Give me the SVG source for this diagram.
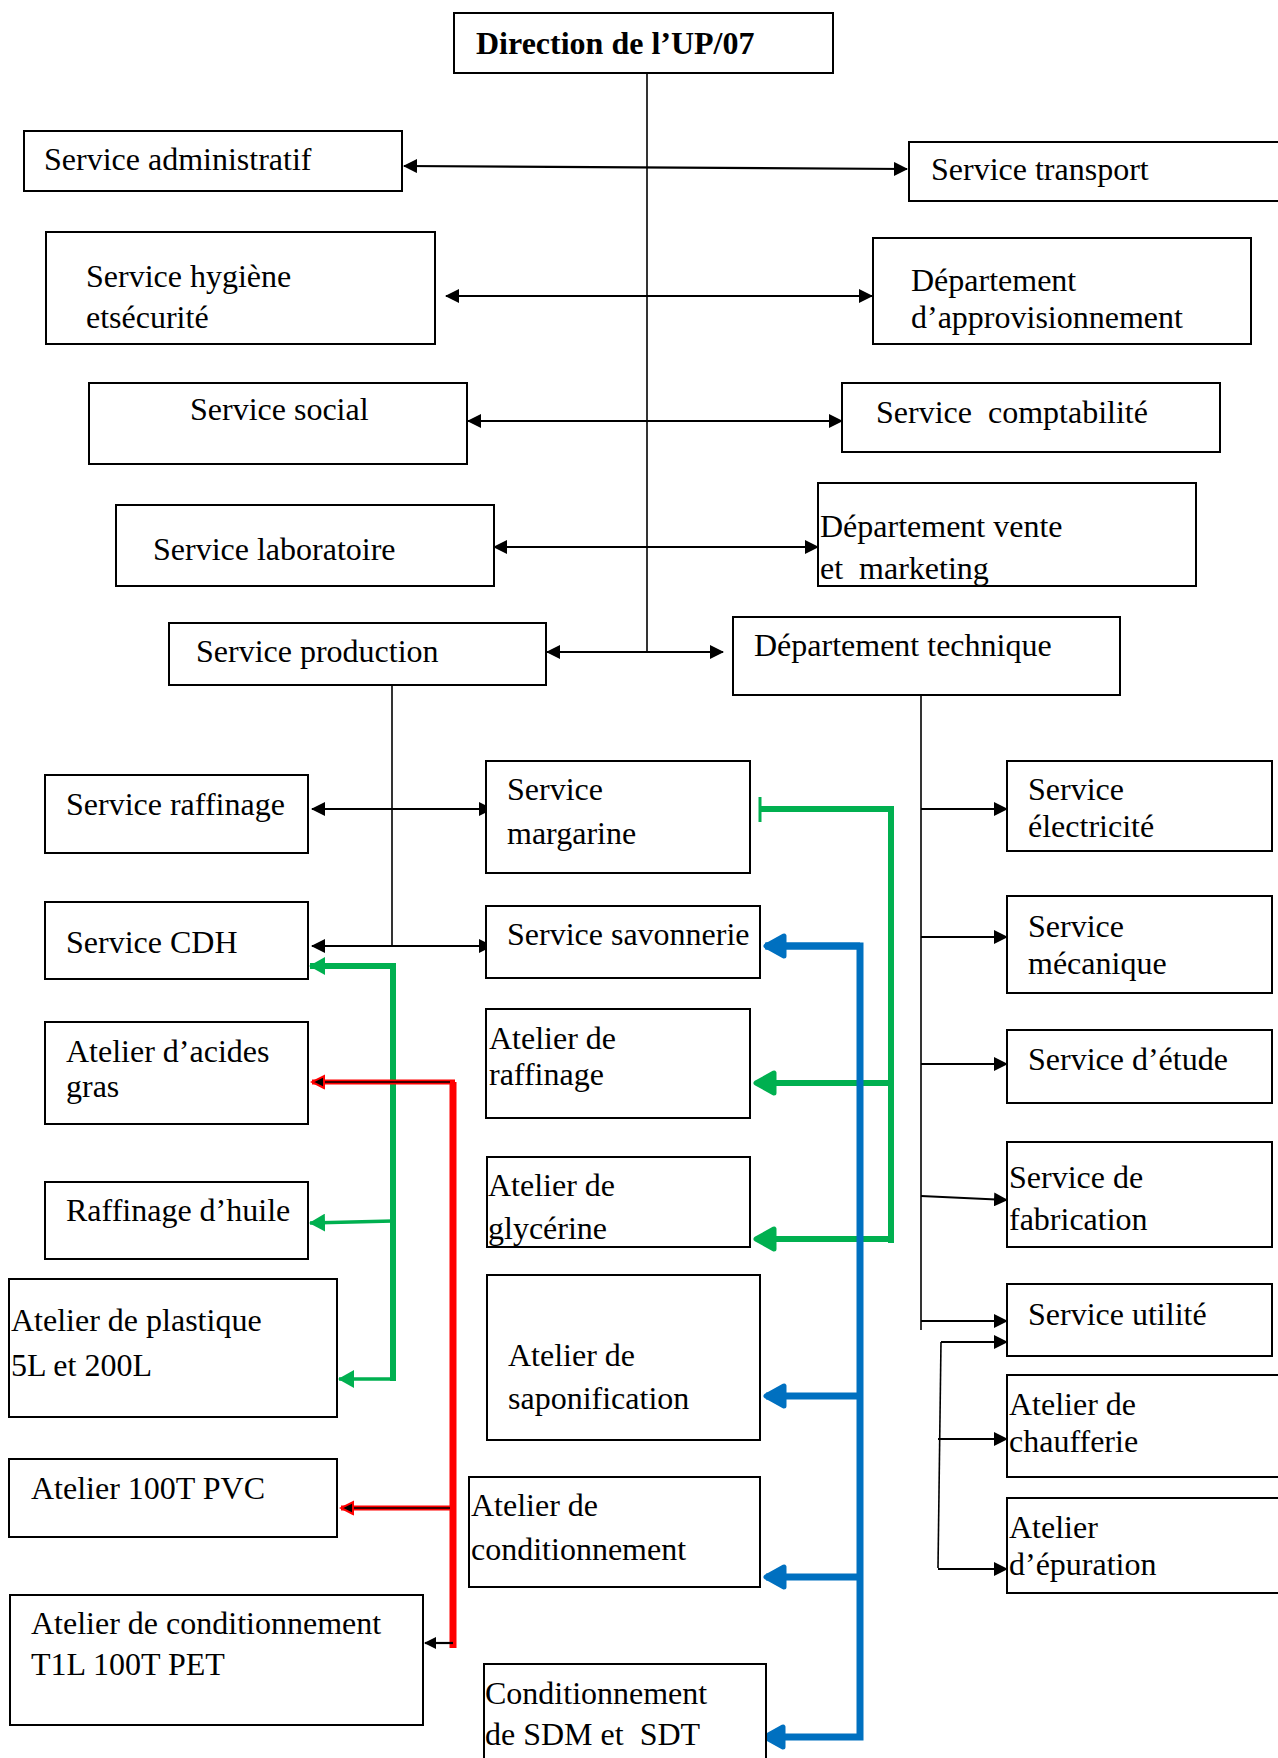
<svg xmlns="http://www.w3.org/2000/svg" width="1278" height="1758" viewBox="0 0 1278 1758">
<style>
.box{fill:#fff;stroke:#000;stroke-width:2}
text{font-family:"Liberation Serif","Times New Roman",serif;font-size:32px;fill:#000;white-space:pre}
.b{font-weight:bold}
.k{fill:none;stroke:#000;stroke-width:1.6}
.ka{fill:none;stroke:#000;stroke-width:2.2}
.g{fill:none;stroke:#00B050;stroke-width:6}
.gt{fill:none;stroke:#00B050;stroke-width:3.5}
.bl{fill:none;stroke:#0070C0;stroke-width:7}
.r{fill:none;stroke:#FF0000;stroke-width:7}
.rt{fill:none;stroke:#FF0000;stroke-width:5}
.rk{fill:none;stroke:#000;stroke-width:1.5}
</style>
<defs>
<marker id="ah" viewBox="0 0 14 14" markerWidth="14" markerHeight="14" refX="13" refY="7" orient="auto-start-reverse" markerUnits="userSpaceOnUse"><path d="M0,0 L14,7 L0,14 z" fill="#000"/></marker>
<marker id="ahs" viewBox="0 0 12 12" markerWidth="12" markerHeight="12" refX="11" refY="6" orient="auto" markerUnits="userSpaceOnUse"><path d="M0,0 L12,6 L0,12 z" fill="#000"/></marker>
<marker id="ag" viewBox="0 0 16 18" markerWidth="16" markerHeight="18" refX="15" refY="9" orient="auto" markerUnits="userSpaceOnUse"><path d="M0,0 L16,9 L0,18 z" fill="#00B050"/></marker>
<marker id="agb" viewBox="0 0 24 26" markerWidth="24" markerHeight="26" refX="21" refY="13" orient="auto" markerUnits="userSpaceOnUse"><path d="M3,3 L21,13 L3,23 z" fill="#00B050" stroke="#00B050" stroke-width="5" stroke-linejoin="round"/></marker>
<marker id="abl" viewBox="0 0 24 26" markerWidth="24" markerHeight="26" refX="21" refY="13" orient="auto" markerUnits="userSpaceOnUse"><path d="M3,3 L21,13 L3,23 z" fill="#0070C0" stroke="#0070C0" stroke-width="5" stroke-linejoin="round"/></marker>
<marker id="ar" viewBox="0 0 16 16" markerWidth="16" markerHeight="16" refX="14" refY="8" orient="auto" markerUnits="userSpaceOnUse"><path d="M2,2 L14,8 L2,14 z" fill="#000" stroke="#FF0000" stroke-width="2"/></marker>
</defs>
<g id="connectors">
<line class="k" x1="647" y1="73" x2="647" y2="652"/>
<line class="ka" x1="404" y1="166" x2="907" y2="169" marker-start="url(#ah)" marker-end="url(#ah)"/>
<line class="ka" x1="446" y1="296" x2="872" y2="296" marker-start="url(#ah)" marker-end="url(#ah)"/>
<line class="ka" x1="468" y1="421" x2="842" y2="421" marker-start="url(#ah)" marker-end="url(#ah)"/>
<line class="ka" x1="494" y1="547" x2="818" y2="547" marker-start="url(#ah)" marker-end="url(#ah)"/>
<line class="ka" x1="547" y1="652" x2="723" y2="652" marker-start="url(#ah)" marker-end="url(#ah)"/>
<line class="k" x1="392" y1="685" x2="392" y2="946"/>
<line class="ka" x1="312" y1="809" x2="492" y2="809" marker-start="url(#ah)" marker-end="url(#ah)"/>
<line class="ka" x1="312" y1="946" x2="492" y2="946" marker-start="url(#ah)" marker-end="url(#ah)"/>
<line class="k" x1="921" y1="695" x2="921" y2="1330"/>
<line class="ka" x1="921" y1="809" x2="1007" y2="809" marker-end="url(#ah)"/>
<line class="ka" x1="921" y1="937" x2="1007" y2="937" marker-end="url(#ah)"/>
<line class="ka" x1="921" y1="1064" x2="1007" y2="1064" marker-end="url(#ah)"/>
<line class="ka" x1="921" y1="1196" x2="1007" y2="1200" marker-end="url(#ah)"/>
<line class="ka" x1="921" y1="1321" x2="1007" y2="1321" marker-end="url(#ah)"/>
<line class="k" x1="941" y1="1342" x2="938" y2="1568"/>
<line class="ka" x1="941" y1="1342" x2="1007" y2="1342" marker-end="url(#ah)"/>
<line class="ka" x1="938" y1="1439" x2="1007" y2="1439" marker-end="url(#ah)"/>
<line class="ka" x1="938" y1="1569" x2="1007" y2="1569" marker-end="url(#ah)"/>
<path class="g" d="M393,1381 L393,966 L310,966" marker-end="url(#ag)"/>
<line class="gt" x1="393" y1="1221" x2="310" y2="1223" marker-end="url(#ag)"/>
<line class="gt" x1="393" y1="1379" x2="339" y2="1379" marker-end="url(#ag)"/>
<path class="r" d="M453,1648 L453,1082"/>
<path class="rt" d="M455,1082 L312,1082"/>
<line class="rk" x1="450" y1="1082" x2="312" y2="1082" marker-end="url(#ar)"/>
<path class="rt" d="M453,1508 L341,1508"/>
<line class="rk" x1="450" y1="1508" x2="341" y2="1508" marker-end="url(#ar)"/>
<line class="ka" x1="453" y1="1643" x2="425" y2="1643" marker-end="url(#ahs)"/>
<path class="g" d="M760,809 L891,809 L891,1243"/>
<line stroke="#00B050" stroke-width="3" x1="760" y1="797" x2="760" y2="822"/>
<line class="g" x1="891" y1="1083" x2="756" y2="1083" marker-end="url(#agb)"/>
<line class="g" x1="894" y1="1239" x2="756" y2="1239" marker-end="url(#agb)"/>
<path class="bl" d="M765,946 L860,946 L860,1737 L765,1737" marker-end="url(#abl)"/>
<line class="bl" x1="860" y1="946" x2="766" y2="946" marker-end="url(#abl)"/>
<line class="bl" x1="860" y1="1396" x2="766" y2="1396" marker-end="url(#abl)"/>
<line class="bl" x1="860" y1="1577" x2="766" y2="1577" marker-end="url(#abl)"/>
</g>
<g id="n1"><rect class="box" x="454" y="13" width="379" height="60"/><text class="b" x="476" y="54">Direction de l’UP/07</text></g>
<g id="n2"><rect class="box" x="24" y="131" width="378" height="60"/><text x="44" y="170">Service administratif</text></g>
<g id="n3"><rect class="box" x="909" y="142" width="380" height="59"/><text x="931" y="180">Service transport</text></g>
<g id="n4"><rect class="box" x="46" y="232" width="389" height="112"/><text x="86" y="287">Service hygiène</text><text x="86" y="328">etsécurité</text></g>
<g id="n5"><rect class="box" x="873" y="238" width="378" height="106"/><text x="911" y="291">Département</text><text x="911" y="328">d’approvisionnement</text></g>
<g id="n6"><rect class="box" x="89" y="383" width="378" height="81"/><text x="190" y="420">Service social</text></g>
<g id="n7"><rect class="box" x="842" y="383" width="378" height="69"/><text x="876" y="423">Service  comptabilité</text></g>
<g id="n8"><rect class="box" x="116" y="505" width="378" height="81"/><text x="153" y="560">Service laboratoire</text></g>
<g id="n9"><rect class="box" x="818" y="483" width="378" height="103"/><text x="820" y="537">Département vente</text><text x="820" y="579">et  marketing</text></g>
<g id="n10"><rect class="box" x="169" y="623" width="377" height="62"/><text x="196" y="662">Service production</text></g>
<g id="n11"><rect class="box" x="733" y="617" width="387" height="78"/><text x="754" y="656">Département technique</text></g>
<g id="n12"><rect class="box" x="45" y="775" width="263" height="78"/><text x="66" y="815">Service raffinage</text></g>
<g id="n13"><rect class="box" x="45" y="902" width="263" height="77"/><text x="66" y="953">Service CDH</text></g>
<g id="n14"><rect class="box" x="486" y="761" width="264" height="112"/><text x="507" y="800">Service</text><text x="507" y="844">margarine</text></g>
<g id="n15"><rect class="box" x="486" y="906" width="274" height="72"/><text x="507" y="945">Service savonnerie</text></g>
<g id="n16"><rect class="box" x="486" y="1009" width="264" height="109"/><text x="489" y="1049">Atelier de</text><text x="489" y="1085">raffinage</text></g>
<g id="n17"><rect class="box" x="45" y="1022" width="263" height="102"/><text x="66" y="1062">Atelier d’acides</text><text x="66" y="1097">gras</text></g>
<g id="n18"><rect class="box" x="45" y="1182" width="263" height="77"/><text x="66" y="1221">Raffinage d’huile</text></g>
<g id="n19"><rect class="box" x="9" y="1279" width="328" height="138"/><text x="11" y="1331">Atelier de plastique</text><text x="11" y="1376">5L et 200L</text></g>
<g id="n20"><rect class="box" x="9" y="1459" width="328" height="78"/><text x="31" y="1499">Atelier 100T PVC</text></g>
<g id="n21"><rect class="box" x="10" y="1595" width="413" height="130"/><text x="31" y="1634">Atelier de conditionnement</text><text x="31" y="1675">T1L 100T PET</text></g>
<g id="n22"><rect class="box" x="487" y="1157" width="263" height="90"/><text x="488" y="1196">Atelier de</text><text x="488" y="1239">glycérine</text></g>
<g id="n23"><rect class="box" x="487" y="1275" width="273" height="165"/><text x="508" y="1366">Atelier de</text><text x="508" y="1409">saponification</text></g>
<g id="n24"><rect class="box" x="469" y="1477" width="291" height="110"/><text x="471" y="1516">Atelier de</text><text x="471" y="1560">conditionnement</text></g>
<g id="n25"><rect class="box" x="484" y="1664" width="282" height="110"/><text x="485" y="1704">Conditionnement</text><text x="485" y="1745">de SDM et  SDT</text></g>
<g id="n26"><rect class="box" x="1007" y="761" width="265" height="90"/><text x="1028" y="800">Service</text><text x="1028" y="837">électricité</text></g>
<g id="n27"><rect class="box" x="1007" y="896" width="265" height="97"/><text x="1028" y="937">Service</text><text x="1028" y="974">mécanique</text></g>
<g id="n28"><rect class="box" x="1007" y="1030" width="265" height="73"/><text x="1028" y="1070">Service d’étude</text></g>
<g id="n29"><rect class="box" x="1007" y="1142" width="265" height="105"/><text x="1009" y="1188">Service de</text><text x="1009" y="1230">fabrication</text></g>
<g id="n30"><rect class="box" x="1007" y="1284" width="265" height="72"/><text x="1028" y="1325">Service utilité</text></g>
<g id="n31"><rect class="box" x="1007" y="1375" width="285" height="102"/><text x="1009" y="1415">Atelier de</text><text x="1009" y="1452">chaufferie</text></g>
<g id="n32"><rect class="box" x="1007" y="1498" width="285" height="95"/><text x="1009" y="1538">Atelier</text><text x="1009" y="1575">d’épuration</text></g>
</svg>
